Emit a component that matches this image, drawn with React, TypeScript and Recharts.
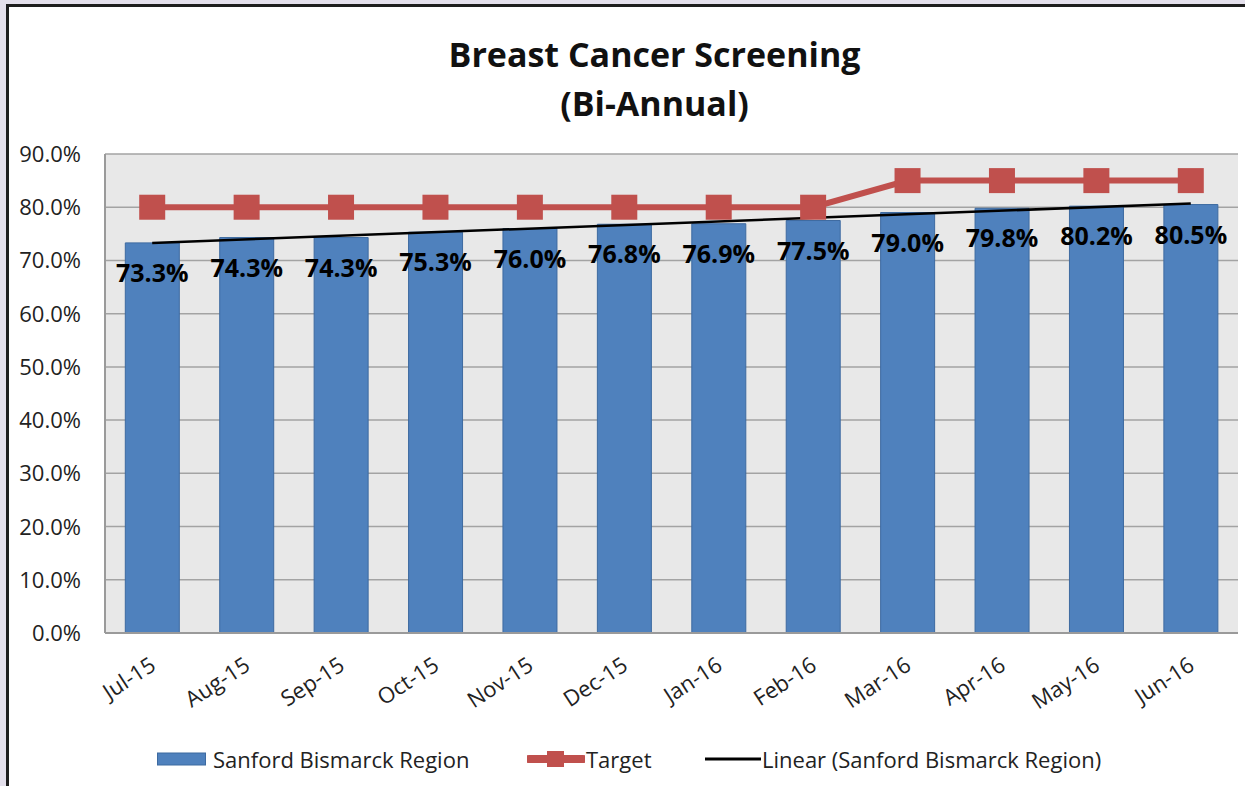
import { ComposedChart, Bar, Line, XAxis, YAxis, CartesianGrid, LabelList, Legend, ReferenceLine } from "recharts";

const months = ["Jul-15", "Aug-15", "Sep-15", "Oct-15", "Nov-15", "Dec-15", "Jan-16", "Feb-16", "Mar-16", "Apr-16", "May-16", "Jun-16"];
const region = [73.3, 74.3, 74.3, 75.3, 76.0, 76.8, 76.9, 77.5, 79.0, 79.8, 80.2, 80.5];
const target = [80, 80, 80, 80, 80, 80, 80, 80, 85, 85, 85, 85];
// trendline end points
const trendStart = 73.3;
const trendEnd = 80.7;
const yTicks = [0, 10, 20, 30, 40, 50, 60, 70, 80, 90];

const data = months.map((m, i) => ({ month: m, region: region[i], target: target[i] }));

const FONT = "'Open Sans', Lato, sans-serif";
const BLUE = "#4f81bd";
const RED = "#c0504d";

function XTick({ x, y, payload }: any) {
  return (
    <text
      x={x + 5}
      y={y + 28}
      transform={`rotate(-33, ${x + 5}, ${y + 28})`}
      textAnchor="end"
      fontSize={22}
      fontFamily={FONT}
      fill="#222"
    >
      {payload.value}
    </text>
  );
}

function YTick({ y, payload }: any) {
  return (
    <text x={81} y={y} dy={8} textAnchor="end" fontSize={22} fontFamily={FONT} fill="#222">
      {payload.value.toFixed(1)}%
    </text>
  );
}

function BarValue({ x, y, width, value }: any) {
  return (
    <text
      x={x + width / 2}
      y={y + 30}
      dy={9}
      textAnchor="middle"
      fontSize={25}
      fontWeight="bold"
      fontFamily={FONT}
      fill="#000"
    >
      {value.toFixed(1)}%
    </text>
  );
}

function SquareDot({ cx, cy }: any) {
  return <rect x={cx - 13} y={cy - 12.5} width={26} height={25} fill={RED} />;
}

function LegendBox() {
  const txt = { fontSize: 22, fontFamily: FONT, color: "#222", whiteSpace: "nowrap" as const };
  return (
    <div style={{ position: "relative", height: 50, width: 1238 }}>
      <div style={{ position: "absolute", left: 157, top: 8, display: "flex", alignItems: "center" }}>
        <svg width={52} height={14}>
          <rect x={0.5} y={1} width={48} height={12} fill={BLUE} stroke="#3d6aa0" />
        </svg>
        <span style={{ ...txt, marginLeft: 4 }}>Sanford Bismarck Region</span>
      </div>
      <div style={{ position: "absolute", left: 527, top: 8, display: "flex", alignItems: "center" }}>
        <svg width={58} height={18}>
          <line x1={2} y1={9} x2={56} y2={9} stroke={RED} strokeWidth={8} strokeLinecap="round" />
          <rect x={20} y={1} width={17} height={16} fill={RED} />
        </svg>
        <span style={{ ...txt, marginLeft: 1 }}>Target</span>
      </div>
      <div style={{ position: "absolute", left: 705, top: 8, display: "flex", alignItems: "center" }}>
        <svg width={56} height={14}>
          <line x1={0} y1={7} x2={56} y2={7} stroke="#000" strokeWidth={3} />
        </svg>
        <span style={{ ...txt, marginLeft: 1 }}>Linear (Sanford Bismarck Region)</span>
      </div>
    </div>
  );
}

export default function App() {
  return (
    <div style={{ position: "fixed", left: 0, top: 0, width: 1245, height: 786, background: "#e4e0ec", overflow: "hidden" }}>
      <div
        style={{
          position: "absolute",
          left: 6,
          top: 4,
          width: 1260,
          height: 800,
          background: "#fff",
          borderLeft: "3px solid #1e1e1e",
          borderTop: "3px solid #1e1e1e",
        }}
      />
      <div
        style={{
          position: "absolute",
          left: 0,
          top: 30,
          width: 1245,
          textAlign: "center",
          fontFamily: FONT,
          fontWeight: "bold",
          fontSize: 34,
          lineHeight: "49px",
          color: "#111",
          paddingLeft: 64,
          boxSizing: "border-box",
        }}
      >
        <div>Breast Cancer Screening</div>
        <div>(Bi-Annual)</div>
      </div>
      <div style={{ position: "absolute", left: 0, top: 0 }}>
        <ComposedChart
          width={1245}
          height={786}
          data={data}
          margin={{ top: 154, right: 7, left: 0, bottom: 0 }}
          barCategoryGap="21.5%"
        >
          <CartesianGrid vertical={false} stroke="#a3a3a3" fill="#e8e8e8" strokeWidth={1.5} />
          <XAxis
            dataKey="month"
            height={103}
            tick={<XTick />}
            tickLine={false}
            axisLine={{ stroke: "#9a9a9a", strokeWidth: 2 }}
            interval={0}
          />
          <YAxis
            width={105}
            domain={[0, 90]}
            ticks={yTicks}
            tick={<YTick />}
            tickLine={false}
            axisLine={{ stroke: "#9a9a9a", strokeWidth: 2 }}
          />
          <Legend verticalAlign="bottom" height={50} content={() => <LegendBox />} />
          <Bar dataKey="region" fill={BLUE} stroke="#3d6aa0" strokeWidth={1} isAnimationActive={false}>
            <LabelList dataKey="region" content={<BarValue />} />
          </Bar>
          <ReferenceLine
            segment={[
              { x: months[0], y: trendStart },
              { x: months[months.length - 1], y: trendEnd },
            ]}
            stroke="#000"
            strokeWidth={2.5}
            ifOverflow="visible"
          />
          <Line
            dataKey="target"
            stroke={RED}
            strokeWidth={6}
            dot={<SquareDot />}
            activeDot={false}
            isAnimationActive={false}
          />
        </ComposedChart>
      </div>
    </div>
  );
}
